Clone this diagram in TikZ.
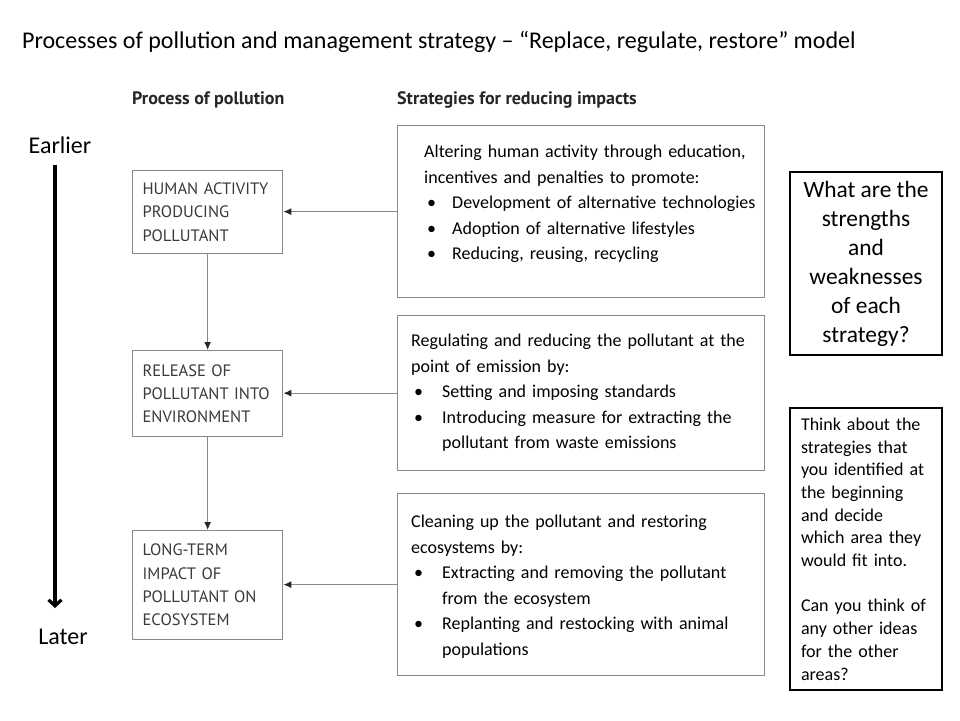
\documentclass[tikz,border=0pt]{standalone}
\usepackage{fontspec}
\setmainfont{Carlito}
\newfontfamily\myriad{PT Sans}
\usetikzlibrary{arrows.meta,positioning}
\definecolor{boxgray}{HTML}{8A8A8A}
\definecolor{procgray}{HTML}{3A3A3A}
\newcommand{\bitem}[2][28pt]{\par\noindent\hangindent=#1\hangafter=1\makebox[#1][l]{\hspace{3pt}\textbullet}#2}
\tikzset{
  procbox/.style={draw=boxgray, line width=1.3pt, align=left, text=procgray, font=\myriad\fontsize{16.5}{23.3}\selectfont, minimum width=150pt, text width=130pt, inner xsep=10pt, anchor=north west},
  stratbox/.style={draw=boxgray, line width=1.3pt, minimum width=367pt, anchor=north west, inner sep=0pt},
  strattxt/.style={anchor=north west, inner sep=0pt, align=left, font=\fontsize{18}{25.5}\selectfont},
  headtxt/.style={anchor=west, inner sep=0pt, font=\myriad\bfseries\fontsize{18}{20}\selectfont, text=black!85},
  qbox/.style={draw=black, line width=2.6pt, minimum width=152pt, inner sep=0pt},
  farr/.style={-{Latex[length=8pt,width=7pt,color=black!85]}, draw=boxgray, line width=1.3pt},
  tarr/.style={-{Straight Barb[length=6pt,width=13pt]}, line width=3.2pt}
}
\begin{document}
\begin{tikzpicture}[x=1pt,y=-1pt]
\useasboundingbox[fill=white] (0,0) rectangle (960,720);
\node[anchor=west, inner sep=0pt, font=\fontsize{24}{28}\selectfont] (title) at (22,42) {Processes of pollution and management strategy -- ``Replace, regulate, restore'' model};
\node[headtxt] (hproc) at (132,100) {Process of pollution};
\node[headtxt] (hstrat) at (397,100) {Strategies for reducing impacts};
% process boxes
\node[procbox, minimum height=83pt] (proc1) at (132,170) {HUMAN ACTIVITY\\PRODUCING\\POLLUTANT};
\node[procbox, minimum height=86pt] (proc2) at (132,350) {RELEASE OF\\POLLUTANT INTO\\ENVIRONMENT};
\node[procbox, minimum height=109pt] (proc3) at (132,530) {LONG-TERM\\IMPACT OF\\POLLUTANT ON\\ECOSYSTEM};
% strategy boxes
\node[stratbox, minimum height=172pt] (stratA) at (397,125) {};
\node[stratbox, minimum height=155pt] (stratB) at (397,315) {};
\node[stratbox, minimum height=182pt] (stratC) at (397,493) {};
\node[strattxt, text width=345pt] (txtA) at (424,145) {Altering human activity through education,\hfil\break incentives and penalties to promote:
\bitem{Development of alternative technologies}
\bitem{Adoption of alternative lifestyles}
\bitem{Reducing, reusing, recycling}\par};
\node[strattxt, text width=350pt] (txtB) at (411,334) {Regulating and reducing the pollutant at the\hfil\break point of emission by:
\bitem[31pt]{Setting and imposing standards}
\bitem[31pt]{Introducing measure for extracting the\hfil\break pollutant from waste emissions}\par};
\node[strattxt, text width=350pt] (txtC) at (411,515) {Cleaning up the pollutant and restoring\hfil\break ecosystems by:
\bitem[31pt]{Extracting and removing the pollutant\hfil\break from the ecosystem}
\bitem[31pt]{Replanting and restocking with animal\hfil\break populations}\par};
\draw[farr] (proc1.south) -- (proc2.north);
\draw[farr] (proc2.south) -- (proc3.north);
\draw[farr] (stratA.west) -- (stratA.west -| proc1.east);
\draw[farr] (stratB.west) -- (stratB.west -| proc2.east);
\draw[farr] (stratC.west) -- (stratC.west -| proc3.east);
% time axis
\node[inner sep=0pt, font=\fontsize{24}{26}\selectfont] (early) at (60,145) {Earlier};
\node[inner sep=0pt, font=\fontsize{24}{26}\selectfont] (late) at (63,637) {Later};
\coordinate (tstart) at (55,165);
\coordinate (tend) at (55,608);
\draw[tarr] (tstart) -- (tend);
% questions
\node[qbox, minimum height=183pt, align=center, font=\fontsize{23.4}{29}\selectfont] (ques) at (866,263.5) {What are the\\strengths\\and\\weaknesses\\of each\\strategy?};
\node[qbox, minimum height=282pt, align=left, text width=130pt, font=\fontsize{18}{22.7}\selectfont] (think) at (866,549) {Think about the\\strategies that\\you identified at\\the beginning\\and decide\\which area they\\would fit into.\\[22.7pt]Can you think of\\any other ideas\\for the other\\areas?};
\end{tikzpicture}
\end{document}
